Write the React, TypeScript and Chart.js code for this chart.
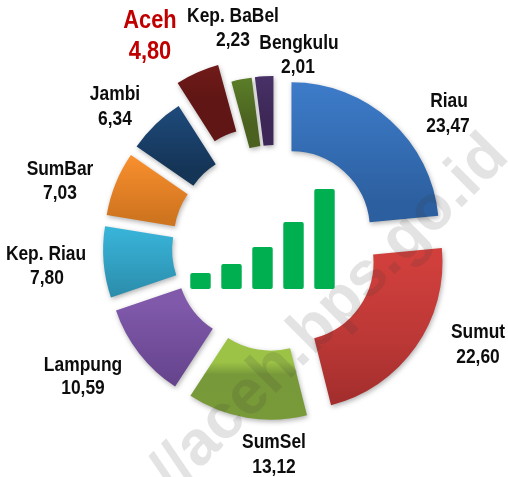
import React, { useEffect, useRef } from "react";
import { Chart, registerables } from "chart.js";

Chart.register(...registerables);

const regions = ["Riau", "Sumut", "SumSel", "Lampung", "Kep. Riau", "SumBar", "Jambi", "Aceh", "Kep. BaBel", "Bengkulu"];
const shares = [23.47, 22.6, 13.12, 10.59, 7.8, 7.03, 6.34, 4.8, 2.23, 2.01];
const shareLabels = ["23,47", "22,60", "13,12", "10,59", "7,80", "7,03", "6,34", "4,80", "2,23", "2,01"];
const barLabels = ["1", "2", "3", "4", "5"];
const barValues = [16, 25, 42, 67, 100];
const watermark = "//aceh.bps.go.id";

const topColors = ["#4080d0", "#d03f3c", "#9cc346", "#8059ab", "#38b4d9", "#ff9430", "#205084", "#84201f", "#64882c", "#4e3570"];
const midColors = ["#3670b8", "#bb3836", "#78993a", "#704c98", "#32a0c2", "#e88428", "#1b436f", "#721b1a", "#577726", "#452f63"];
const bottomColors = ["#2c5f9f", "#9c2b2a", "#789a36", "#5f3f86", "#2b8aa8", "#d0751f", "#153557", "#5f1614", "#4a611f", "#3c2756"];
const explode = [24.5, 24.5, 24.5, 24.5, 24.5, 24.5, 24.5, 44.5, 24.5, 24.5];
const nameSpots: [number, number][] = [[449, 101], [478, 332], [274, 442], [83, 365], [46, 254], [60, 169], [115, 94], [150, 21], [233, 16], [299, 43]];
const valueSpots: [number, number][] = [[448, 126], [478, 357], [274, 467], [83, 388], [47, 278], [60, 193], [115, 119], [150, 52], [233, 40], [298, 67]];

const CX = 275, CY = 248, OUTER = 147.5, INNER = 78.5;

export default function App() {
  const ringRef = useRef<HTMLCanvasElement>(null);
  const barRef = useRef<HTMLCanvasElement>(null);
  useEffect(() => {
    const ring = new Chart(ringRef.current!, {
      type: "doughnut",
      data: {
        labels: regions,
        datasets: [{
          data: shares,
          borderWidth: 0,
          backgroundColor: (c: any) => {
            const i = c.dataIndex;
            if (i === undefined) return "#888";
            const total = shares.reduce((a, b) => a + b, 0);
            let s = 0;
            for (let k = 0; k < i; k++) s += shares[k];
            const a0 = (s / total) * 2 * Math.PI, a1 = ((s + shares[i]) / total) * 2 * Math.PI;
            let lo = Infinity, hi = -Infinity;
            for (let t = 0; t <= 24; t++) {
              const a = a0 + ((a1 - a0) * t) / 24;
              for (const r of [INNER, OUTER]) {
                const y = CY - Math.cos(a) * r;
                lo = Math.min(lo, y); hi = Math.max(hi, y);
              }
            }
            const mid = (a0 + a1) / 2;
            const dy = -Math.cos(mid) * explode[i];
            const g = c.chart.ctx.createLinearGradient(0, lo + dy, 0, hi + dy);
            g.addColorStop(0, topColors[i]);
            g.addColorStop(i === 2 ? 0.15 : 0.5, midColors[i]);
            g.addColorStop(1, bottomColors[i]);
            return g;
          },
        }],
      },
      options: {
        animation: false,
        responsive: false,
        radius: OUTER,
        cutout: `${(INNER / OUTER) * 100}%`,
        layout: { padding: { left: 2 * CX - 508, right: 0, top: 2 * CY - 477, bottom: 0 } },
        plugins: { legend: { display: false }, tooltip: { enabled: false } },
      } as any,
      plugins: [{
        id: "explodedArcs",
        beforeDatasetDraw(chart: any) {
          const ctx = chart.ctx;
          chart.getDatasetMeta(0).data.forEach((arc: any, i: number) => {
            const mid = (arc.startAngle + arc.endAngle) / 2;
            ctx.save();
            ctx.translate(Math.cos(mid) * explode[i], Math.sin(mid) * explode[i]);
            ctx.shadowColor = "rgba(0,0,0,0.3)";
            ctx.shadowBlur = 5;
            ctx.shadowOffsetX = 1;
            ctx.shadowOffsetY = 2;
            arc.draw(ctx);
            ctx.restore();
          });
          return false;
        },
        afterDraw(chart: any) {
          const ctx = chart.ctx;
          ctx.save();
          ctx.translate(174, 495);
          ctx.rotate(-Math.PI / 4);
          ctx.font = 'bold 63px "Liberation Sans", sans-serif';
          ctx.textAlign = "left";
          ctx.textBaseline = "alphabetic";
          ctx.fillStyle = "rgba(60,60,60,0.14)";
          ctx.fillText(watermark, 0, 0);
          ctx.restore();
          ctx.textAlign = "center";
          ctx.textBaseline = "middle";
          regions.forEach((name, i) => {
            const aceh = i === 7;
            ctx.fillStyle = aceh ? "#c00000" : "#0d0d0d";
            ctx.font = `bold ${aceh ? 26 : 20}px "Liberation Sans", sans-serif`;
            const squeeze = aceh ? 0.84 : 0.87;
            [[name, nameSpots[i]], [shareLabels[i], valueSpots[i]]].forEach(([text, spot]: any) => {
              ctx.save();
              ctx.translate(spot[0], spot[1]);
              ctx.scale(squeeze, 1);
              ctx.fillText(text, 0, 0);
              ctx.restore();
            });
          });
        },
      }],
    } as any);
    const bars = new Chart(barRef.current!, {
      type: "bar",
      data: {
        labels: barLabels,
        datasets: [{
          data: barValues,
          backgroundColor: "#00b050",
          borderRadius: 2,
          borderSkipped: false,
          barPercentage: 0.66,
          categoryPercentage: 1,
        }],
      },
      options: {
        animation: false,
        responsive: false,
        layout: { padding: 0 },
        scales: {
          x: { display: false },
          y: { display: false, min: 0, max: 100 },
        },
        plugins: { legend: { display: false }, tooltip: { enabled: false } },
      },
    } as any);
    return () => { ring.destroy(); bars.destroy(); };
  }, []);
  return (
    <div style={{ position: "fixed", left: 0, top: 0, width: 508, height: 477, background: "#fff", overflow: "hidden" }}>
      <canvas ref={ringRef} width={508} height={477} style={{ position: "absolute", left: 0, top: 0 }} />
      <canvas ref={barRef} width={155} height={100} style={{ position: "absolute", left: 185, top: 189 }} />
    </div>
  );
}
